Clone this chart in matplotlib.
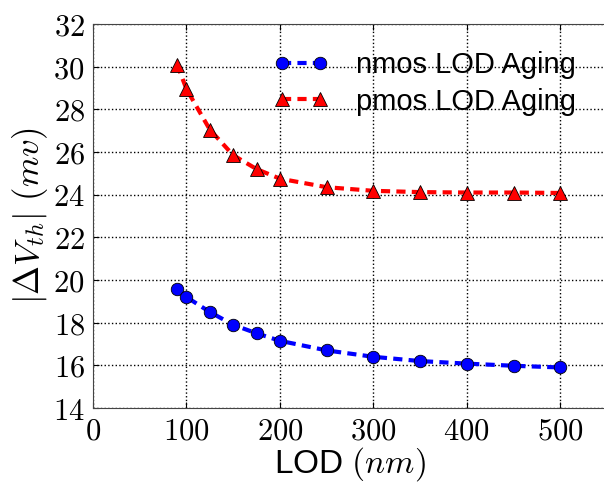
import matplotlib
matplotlib.use('Agg')
import matplotlib.pyplot as plt
from matplotlib.ticker import FuncFormatter, MultipleLocator

plt.rcParams['mathtext.fontset'] = 'cm'
plt.rcParams['font.family'] = ['Liberation Sans', 'DejaVu Sans']

# LOD values (nm)
lod = [90, 100, 125, 150, 175, 200, 250, 300, 350, 400, 450, 500]
# |delta Vth| in mV
nmos_aging = [19.6, 19.2, 18.5, 17.9, 17.5, 17.15, 16.7, 16.4, 16.2, 16.08, 15.98, 15.9]
pmos_aging = [30.1, 28.95, 27.05, 25.85, 25.2, 24.75, 24.35, 24.18, 24.12, 24.1, 24.1, 24.08]

fig = plt.figure(figsize=(6.04, 4.84), dpi=100)
ax = fig.add_axes([93/604, 76/484, 514/604, 384/484])

ax.plot(lod, nmos_aging, '--o', color='blue', lw=3, ms=9, mec='k', mew=0.6,
        dashes=(2.2, 1.5), label='nmos LOD Aging')
ax.plot(lod, pmos_aging, '--^', color='red', lw=3, ms=9.5, mec='k', mew=0.6,
        dashes=(2.2, 1.5), label='pmos LOD Aging')

ax.set_xlim(0, 550)
ax.set_ylim(14, 32)
ax.xaxis.set_major_locator(MultipleLocator(100))
ax.yaxis.set_major_locator(MultipleLocator(2))
fmt = FuncFormatter(lambda v, p: r'$%d$' % v)
ax.xaxis.set_major_formatter(fmt)
ax.yaxis.set_major_formatter(fmt)
ax.tick_params(direction='in', top=True, right=False, length=4, labelsize=22, pad=6)

ax.grid(True, color='k', linestyle=':', linewidth=1)
for s in ax.spines.values():
    s.set_color('#444444')
ax.spines['right'].set_visible(False)

ax.set_xlabel(r'LOD $(nm)$', fontsize=24, labelpad=-1)
ax.set_ylabel(r'$|\Delta V_{th}|\ (mv)$', fontsize=25, labelpad=2)

ax.legend(loc='upper left', bbox_to_anchor=(0.35, 0.93), frameon=False, numpoints=2,
          fontsize=21, borderpad=0, borderaxespad=0, handlelength=1.9,
          handletextpad=0.95, labelspacing=0.3)

fig.savefig('out.png', dpi=100)
